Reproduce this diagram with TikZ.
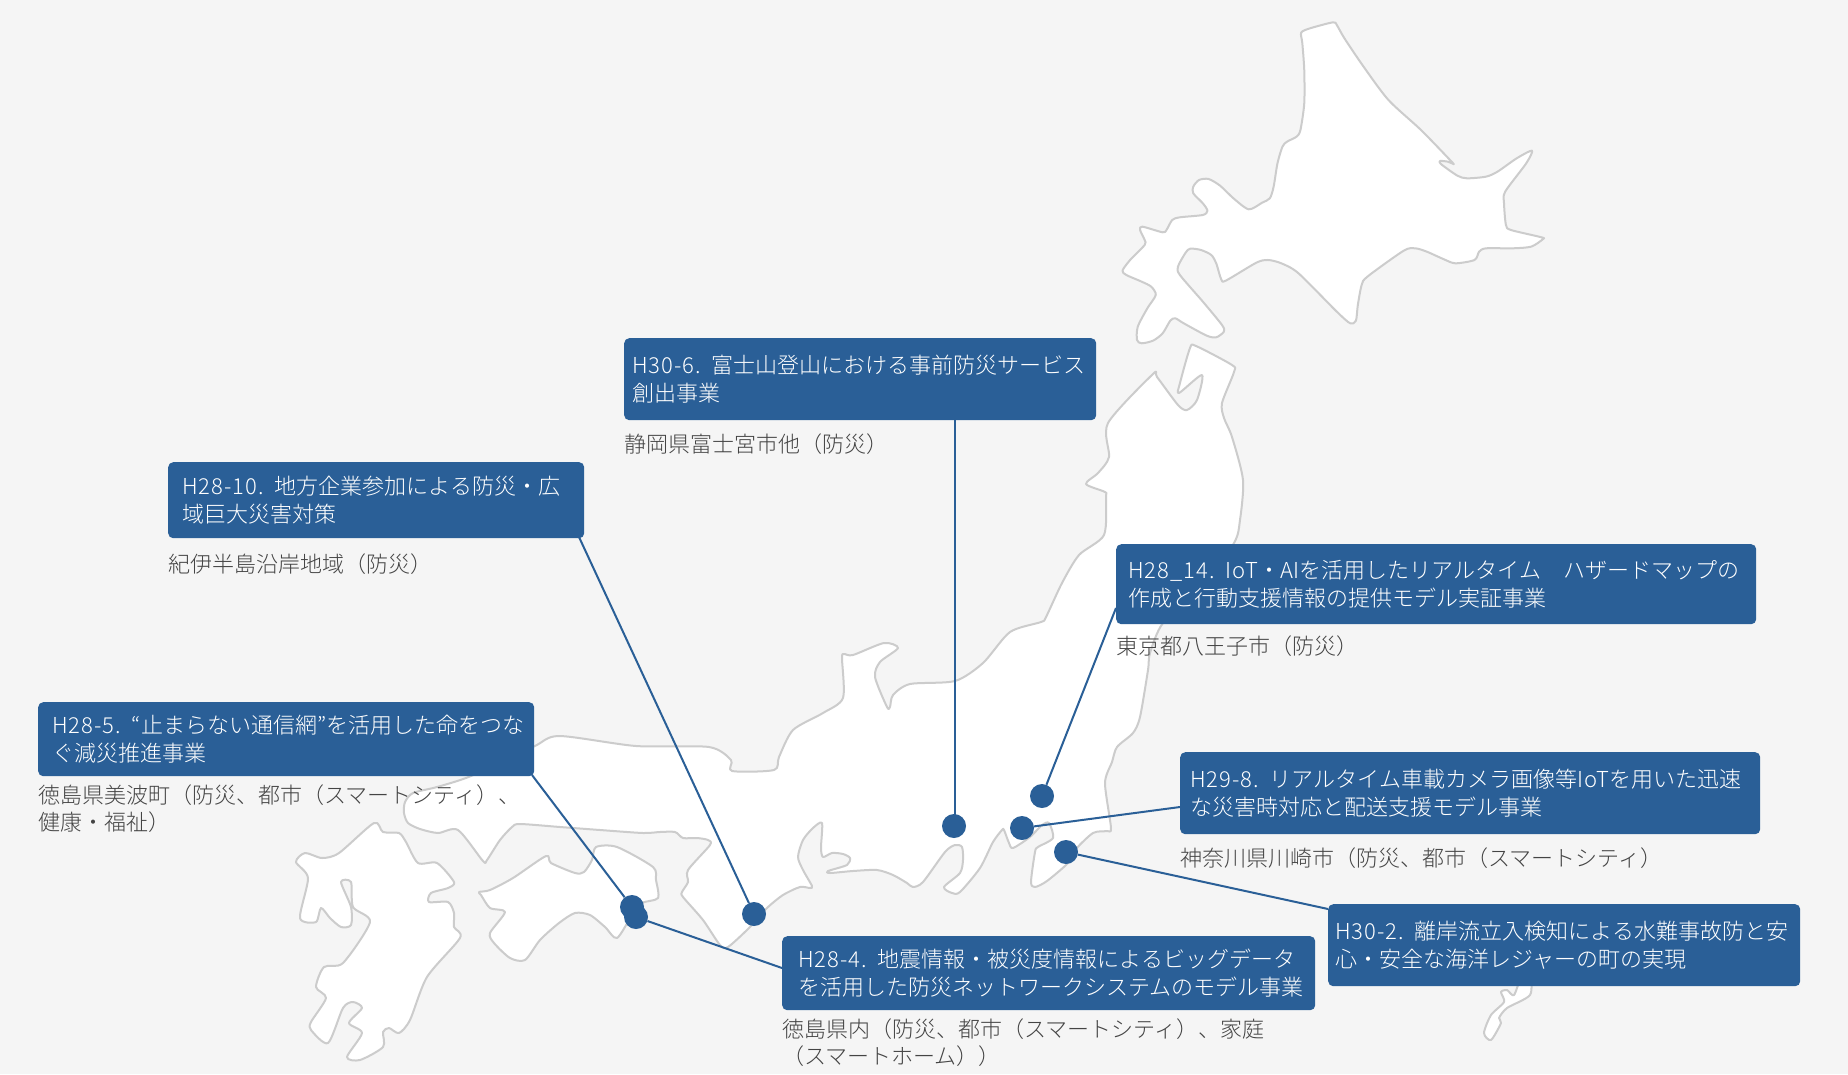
\documentclass[tikz,border=0pt]{standalone}
\usepackage{fontspec}
\setmainfont{Noto Sans CJK JP Light}
\newfontfamily\spacedlatin{Noto Sans CJK JP Light}[LetterSpace=4.5]
\definecolor{pagebg}{HTML}{F5F5F5}
\definecolor{coast}{HTML}{CCCCCC}
\definecolor{boxblue}{HTML}{2A5F97}
\definecolor{labelgrey}{HTML}{444444}
\tikzset{
  x=1pt,y=-1pt,
  island/.style={fill=white,draw=coast,line width=2pt,line join=round},
  projbox/.style={fill=boxblue,text=white,rounded corners=5pt,anchor=north west,align=left,inner ysep=0pt,
    font=\fontsize{22}{28.2}\selectfont},
  placelabel/.style={text=labelgrey,anchor=west,align=left,inner sep=0pt,font=\fontsize{22}{27}\selectfont},
  siteline/.style={draw=boxblue,line width=2pt},
  sitedot/.style={circle,fill=boxblue,minimum size=24pt,inner sep=0pt},
}
\newcommand{\keepline}[1]{\mbox{#1}}
\newcommand{\lat}[1]{{\spacedlatin #1}}
\begin{document}
\begin{tikzpicture}
\fill[pagebg] (0,0) rectangle (1848,1074);
\useasboundingbox (0,0) rectangle (1848,1074);
% Hokkaido
\begin{scope}[shift={(1000,0)},xscale=.3827,yscale=.3333]
\draw[island] plot[smooth cycle,tension=.45] coordinates {(787,98)(810,85)(870,67)(880,75)(900,115)(950,200)(1015,300)(1100,390)(1180,485)(1183,491)(1170,485)(1150,483)(1152,492)(1195,527)(1220,535)(1270,530)(1300,515)(1350,475)(1390,452)(1375,490)(1320,575)(1317,610)(1322,675)(1335,690)(1415,712)(1418,718)(1388,740)(1340,745)(1270,745)(1252,755)(1240,780)(1190,790)(1160,778)(1115,755)(1085,745)(1055,752)(960,830)(945,855)(935,915)(930,962)(915,970)(880,935)(780,820)(735,790)(700,780)(670,788)(590,842)(578,838)(565,790)(552,765)(525,750)(497,746)(485,758)(465,800)(470,825)(530,905)(580,975)(585,995)(565,1012)(540,1007)(480,970)(458,955)(445,962)(425,1000)(400,1022)(370,1030)(358,1020)(360,980)(385,925)(407,885)(395,860)(370,845)(330,825)(320,812)(340,780)(378,735)(378,720)(366,690)(372,680)(425,697)(435,690)(450,660)(470,652)(530,645)(542,632)(530,610)(505,580)(505,560)(520,540)(545,537)(575,557)(610,595)(650,628)(685,608)(705,595)(715,560)(725,490)(738,440)(750,425)(775,410)(785,390)(795,310)(795,210)(790,130)};
\end{scope}
% Honshu
\draw[island] plot[smooth cycle,tension=.45] coordinates {(1196,346)(1232,365)(1234,372)(1222,403)(1224,418)(1232,437)(1243,480)(1240,520)(1234,543)(1200,590)(1163,623)(1150,653)(1148,670)(1140,717)(1133,733)(1117,747)(1112,762)(1105,783)(1111,828)(1107,831)(1093,833)(1075,850)(1068,863)(1047,881)(1035,887)(1031,882)(1035,852)(1038,847)(1053,838)(1049,823)(1042,825)(1030,837)(1013,848)(1009,843)(1004,830)(1002,830)(993,842)(980,868)(960,892)(952,893)(944,887)(960,873)(963,860)(962,847)(955,845)(945,852)(923,882)(913,887)(907,883)(893,875)(877,870)(853,871)(830,873)(828,871)(847,865)(850,858)(843,854)(832,853)(823,857)(821,848)(822,823)(813,828)(803,840)(798,857)(803,870)(812,886)(810,888)(800,887)(783,895)(767,908)(750,927)(728,947)(720,945)(703,920)(683,897)(682,892)(688,882)(688,870)(710,845)(708,840)(697,838)(683,838)(675,832)(660,832)(643,833)(600,830)(560,827)(520,824)(512,827)(500,840)(487,860)(483,861)(458,830)(438,833)(420,829)(408,823)(404,813)(405,802)(413,793)(437,787)(471,776)(533,747)(559,736)(636,746)(709,747)(731,760)(732,771)(774,770)(779,757)(793,730)(823,713)(843,698)(842,658)(844,654)(853,655)(884,643)(898,648)(880,662)(875,677)(887,707)(890,707)(893,695)(910,684)(955,681)(983,663)(1010,632)(1041,622)(1046,617)(1062,583)(1079,555)(1104,535)(1106,497)(1105,492)(1086,484)(1098,473)(1109,457)(1108,423)(1153,374)(1157,377)(1178,405)(1187,410)(1197,400)(1202,375)(1179,393)(1180,383)(1190,348)};
% Shikoku
\draw[island] plot[smooth cycle,tension=.45] coordinates {(479,892)(490,890)(513,878)(546,856)(551,863)(575,873)(584,872)(592,860)(596,847)(617,847)(653,867)(656,880)(658,898)(642,903)(632,915)(617,938)(605,927)(590,915)(575,913)(559,923)(540,940)(525,960)(510,958)(494,943)(490,933)(505,912)(490,908)(481,895)};
% Kyushu
\draw[island] plot[smooth cycle,tension=.45] coordinates {(296,862)(305,853)(322,858)(339,853)(374,823)(383,832)(399,833)(406,842)(418,863)(437,863)(454,882)(448,888)(431,893)(429,902)(448,902)(454,913)(454,927)(460,938)(427,977)(410,1020)(399,1033)(389,1028)(383,1032)(383,1047)(360,1060)(347,1057)(362,1033)(349,1023)(362,1008)(353,1002)(343,1008)(328,1043)(311,1030)(311,1022)(326,998)(316,987)(324,967)(343,963)(370,922)(353,907)(351,882)(341,882)(351,907)(351,925)(341,927)(330,918)(321,908)(316,922)(300,918)(308,878)};
% Amami
\draw[island] plot[smooth cycle,tension=.45] coordinates {(1530,975)(1530,995)(1507,1008)(1499,1018)(1501,1023)(1491,1040)(1484,1033)(1491,1015)(1504,1002)(1501,992)(1507,990)(1514,995)(1522,975)};
% Project boxes
\node[projbox,text width=456pt,minimum width=472pt,minimum height=82pt,inner xsep=8pt] (h306) at (624,338) {\keepline{\lat{H30-6. }富士山登山における事前防災サービス}\\創出事業};
\node[projbox,text width=388pt,minimum width=416pt,minimum height=76pt,inner xsep=14pt] (h2810) at (168,462) {\keepline{\lat{H28-10. }地方企業参加による防災・広}\\域巨大災害対策};
\node[projbox,text width=468pt,minimum width=496pt,minimum height=74pt,inner xsep=14pt] (h285) at (38,702) {\keepline{\lat{H28-5. “}止まらない通信網\lat{”}を活用した命をつな}\\ぐ減災推進事業};
\node[projbox,text width=616pt,minimum width=640pt,minimum height=80pt,inner xsep=12pt] (h2814) at (1116,544) {\keepline{\lat{H28\_14. IoT}・\lat{AI}を活用したリアルタイム　ハザードマップの}\\作成と行動支援情報の提供モデル実証事業};
\node[projbox,text width=560pt,minimum width=580pt,minimum height=82pt,inner xsep=10pt] (h298) at (1180,752) {\keepline{\lat{H29-8. }リアルタイム車載カメラ画像等\lat{IoT}を用いた迅速}\\な災害時対応と配送支援モデル事業};
\node[projbox,text width=458pt,minimum width=472pt,minimum height=82pt,inner xsep=7pt] (h302) at (1328,904) {\keepline{\lat{H30-2. }離岸流立入検知による水難事故防と安}\\心・安全な海洋レジャーの町の実現};
\node[projbox,text width=501pt,minimum width=533pt,minimum height=74pt,inner xsep=16pt] (h284) at (782,936) {\keepline{\lat{H28-4. }地震情報・被災度情報によるビッグデータ}\\\keepline{を活用した防災ネットワークシステムのモデル事業}};
% Place labels
\node[placelabel] (p306) at (624,444) {静岡県富士宮市他（防災）};
\node[placelabel] (p2810) at (168,564) {紀伊半島沿岸地域（防災）};
\node[placelabel,anchor=north west] (p285) at (38,785) {徳島県美波町（防災、都市（スマートシティ）、\\健康・福祉）};
\node[placelabel] (p2814) at (1116,646) {東京都八王子市（防災）};
\node[placelabel] (p298) at (1180,858) {神奈川県川崎市（防災、都市（スマートシティ）};
\node[placelabel,anchor=north west] (p284) at (782,1019) {徳島県内（防災、都市（スマートシティ）、家庭\\（スマートホーム））};
% Site dots
\node[sitedot] (d2814) at (1042,796) {};
\node[sitedot] (d298) at (1022,828) {};
\node[sitedot] (d302) at (1066,852) {};
\node[sitedot] (d306) at (954,826) {};
\node[sitedot] (d2810) at (754,914) {};
\node[sitedot] (d285) at (632,907) {};
\node[sitedot] (d284) at (636,917) {};
% Connector start points on the box edges
\coordinate (a306) at (955,420);
\coordinate (e306) at (955,820);
\coordinate (a2810) at (579,537);
\coordinate (a285) at (532,775);
\coordinate (a2814) at (1116,608);
\coordinate (a298) at (1180,807);
\coordinate (a302) at (1328,909);
\coordinate (a284) at (782,968);
\draw[siteline] (a306) -- (e306);
\draw[siteline] (a2810) -- (d2810);
\draw[siteline] (a285) -- (d285);
\draw[siteline] (a2814) -- (d2814);
\draw[siteline] (a298) -- (d298);
\draw[siteline] (a302) -- (d302);
\draw[siteline] (a284) -- (d284);
\end{tikzpicture}
\end{document}
